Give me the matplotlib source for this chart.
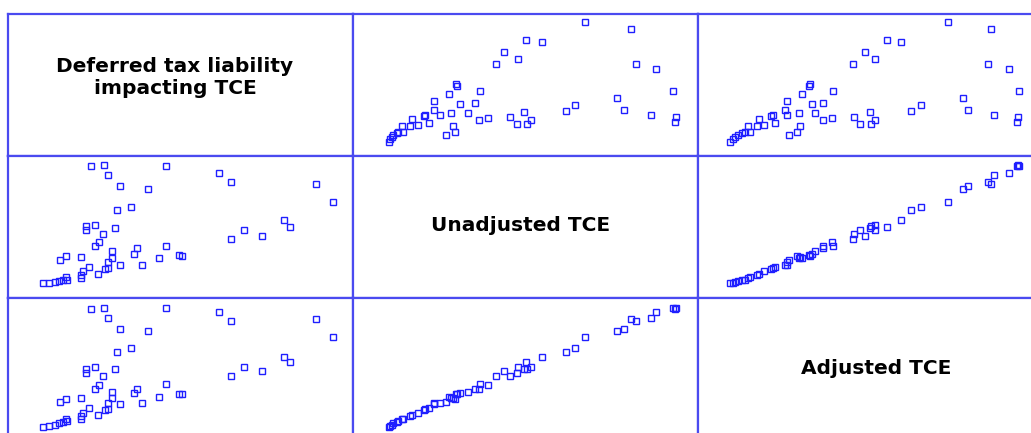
import matplotlib.pyplot as plt
import numpy as np

# values (scaled 0..1 per variable)
deferred = [0.942, 0.892, 0.817, 0.801, 0.735, 0.685, 0.646, 0.646, 0.613, 0.505,
            0.495, 0.439, 0.458, 0.458, 0.389, 0.406, 0.366, 0.373, 0.324, 0.289,
            0.280, 0.289, 0.301, 0.301, 0.310, 0.357, 0.315, 0.324, 0.291, 0.277,
            0.242, 0.261, 0.235, 0.216, 0.211, 0.211, 0.251, 0.265, 0.275, 0.251,
            0.225, 0.225, 0.211, 0.167, 0.150, 0.169, 0.171, 0.160, 0.148, 0.136,
            0.118, 0.101]
unadjusted = [0.673, 0.805, 0.501, 0.547, 0.438, 0.477, 0.415, 0.819, 0.877, 0.299,
              0.301, 0.279, 0.369, 0.928, 0.235, 0.765, 0.311, 0.354, 0.235, 0.209,
              0.205, 0.252, 0.284, 0.333, 0.496, 0.643, 0.618, 0.786, 0.865, 0.936,
              0.932, 0.172, 0.219, 0.188, 0.165, 0.142, 0.364, 0.392, 0.454, 0.516,
              0.476, 0.504, 0.290, 0.296, 0.269, 0.146, 0.130, 0.127, 0.117, 0.112,
              0.107, 0.104]
adjusted = [0.725, 0.850, 0.549, 0.587, 0.484, 0.514, 0.449, 0.840, 0.901, 0.326,
            0.322, 0.300, 0.392, 0.930, 0.258, 0.768, 0.329, 0.361, 0.251, 0.216,
            0.212, 0.258, 0.294, 0.338, 0.498, 0.646, 0.618, 0.784, 0.857, 0.927,
            0.924, 0.176, 0.223, 0.192, 0.170, 0.146, 0.361, 0.389, 0.453, 0.512,
            0.470, 0.500, 0.295, 0.287, 0.265, 0.150, 0.136, 0.127, 0.117, 0.108,
            0.100, 0.094]

names = ['Deferred tax liability\nimpacting TCE', 'Unadjusted TCE', 'Adjusted TCE']
data = [deferred, unadjusted, adjusted]
# label centres inside each diagonal cell (axes fraction)
label_pos = [(0.484, 0.55), (0.487, 0.51), (0.516, 0.50)]

W, H = 1031, 433
fig = plt.figure(figsize=(W / 100, H / 100), dpi=100)

cell_w, cell_h = 345, 142
left0, top0 = 8, 14
line_col = '#4a4af0'

for i in range(3):
    for j in range(3):
        x0 = left0 + j * cell_w
        y0 = top0 + i * cell_h
        ax = fig.add_axes([x0 / W, (H - y0 - cell_h) / H, cell_w / W, cell_h / H])
        ax.set_xlim(0, 1)
        ax.set_ylim(0, 1)
        ax.set_xticks([])
        ax.set_yticks([])
        for s in ax.spines.values():
            s.set_color(line_col)
            s.set_linewidth(1.6)
        if i == j:
            ax.text(label_pos[i][0], label_pos[i][1], names[i], transform=ax.transAxes,
                    ha='center', va='center', fontsize=14.5, fontweight='bold',
                    family='DejaVu Sans', linespacing=1.2)
        else:
            ax.plot(data[j], data[i], 's', ms=4.8, mfc='none', mec='#1f1fff', mew=1.0)

fig.savefig('out.png', dpi=100)
